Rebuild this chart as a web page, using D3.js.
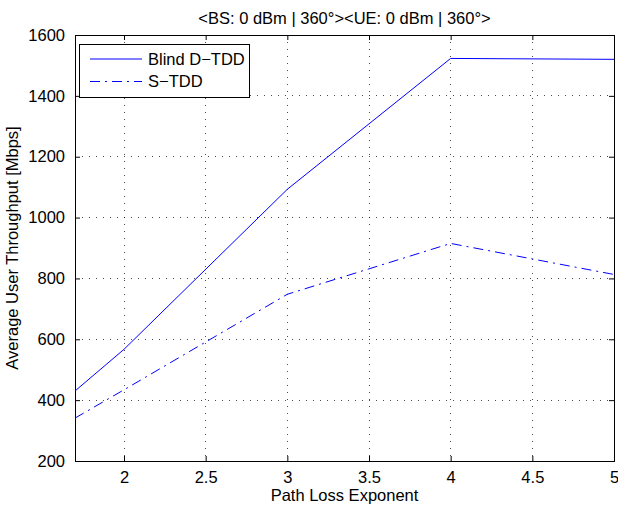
<!DOCTYPE html>
<html>
<head>
<meta charset="utf-8">
<script src="https://cdn.jsdelivr.net/npm/d3@7"></script>
<style>
	body { margin: 0; background: #fff; }
	text { font-family: "Liberation Sans", Arial, Helvetica, sans-serif; }
</style>
</head>
<body>
<div id="chart-area"></div>
<script>
// values
var pathLoss = [1.7, 2, 3, 4, 5];
var blindDTDD = [430, 567, 1093, 1523, 1520];
var sTDD = [341, 434, 748, 915, 813];
var xTicks = [2, 2.5, 3, 3.5, 4, 4.5, 5];
var yTicks = [200, 400, 600, 800, 1000, 1200, 1400, 1600];
var seriesNames = ["Blind D\u2212TDD", "S\u2212TDD"];
var titleText = "<BS: 0 dBm | 360\u00b0><UE: 0 dBm | 360\u00b0>";

var W = 618, H = 506;
var margin = { top: 35, right: 4, bottom: 45, left: 75 };
var width = W - margin.left - margin.right;
var height = H - margin.top - margin.bottom;
var fontSize = "16.5px";

var svg = d3.select("#chart-area")
	.append("svg")
	.attr("width", W)
	.attr("height", H)
	.append("g")
	.attr("transform", "translate(" + margin.left + ", " + margin.top + ")");

var xScale = d3.scaleLinear()
	.domain([1.7, 5])
	.range([0, width]);

var yScale = d3.scaleLinear()
	.domain([200, 1600])
	.range([height, 0]);

// dotted grid
svg.append("g").selectAll("line")
	.data(xTicks)
	.enter().append("line")
	.attr("x1", d => xScale(d)).attr("x2", d => xScale(d))
	.attr("y1", 0).attr("y2", height)
	.attr("stroke", "#000")
	.attr("stroke-width", 1)
	.attr("stroke-dasharray", "1,6")
	.attr("shape-rendering", "crispEdges")
	.attr("opacity", 0.7);

svg.append("g").selectAll("line")
	.data(yTicks)
	.enter().append("line")
	.attr("y1", d => yScale(d)).attr("y2", d => yScale(d))
	.attr("x1", 0).attr("x2", width)
	.attr("stroke", "#000")
	.attr("stroke-width", 1)
	.attr("stroke-dasharray", "1,6")
	.attr("shape-rendering", "crispEdges")
	.attr("opacity", 0.7);

// axes, ticks inside on all four sides
function styleAxis(g) {
	g.select(".domain").remove();
	g.selectAll(".tick line").attr("stroke", "#000");
	g.selectAll(".tick text")
		.attr("font-size", fontSize)
		.attr("fill", "#000");
}

svg.append("g")
	.attr("transform", "translate(0," + height + ")")
	.call(d3.axisBottom(xScale).tickValues(xTicks).tickFormat(d => d).tickSizeInner(-5).tickPadding(10))
	.call(styleAxis);

svg.append("g")
	.call(d3.axisTop(xScale).tickValues(xTicks).tickFormat("").tickSizeInner(-5))
	.call(styleAxis);

svg.append("g")
	.call(d3.axisLeft(yScale).tickValues(yTicks).tickFormat(d => d).tickSizeInner(-5).tickPadding(10))
	.call(styleAxis);

svg.append("g")
	.attr("transform", "translate(" + width + ",0)")
	.call(d3.axisRight(yScale).tickValues(yTicks).tickFormat("").tickSizeInner(-5))
	.call(styleAxis);

svg.append("rect")
	.attr("x", 0).attr("y", 0)
	.attr("width", width).attr("height", height)
	.attr("fill", "none")
	.attr("stroke", "#000")
	.attr("stroke-width", 1)
	.attr("shape-rendering", "crispEdges");

// data lines
var line = d3.line()
	.x((d, i) => xScale(pathLoss[i]))
	.y(d => yScale(d));

svg.append("path")
	.datum(blindDTDD)
	.attr("d", line)
	.attr("fill", "none")
	.attr("stroke", "#0000ff")
	.attr("stroke-width", 1);

svg.append("path")
	.datum(sTDD)
	.attr("d", line)
	.attr("fill", "none")
	.attr("stroke", "#0000ff")
	.attr("stroke-width", 1)
	.attr("stroke-dasharray", "10,5,2,5");

// labels
svg.append("text")
	.attr("x", width / 2)
	.attr("y", -11)
	.attr("text-anchor", "middle")
	.attr("font-size", fontSize)
	.attr("fill", "black")
	.text(titleText);

svg.append("text")
	.attr("x", width / 2)
	.attr("y", height + 40)
	.attr("text-anchor", "middle")
	.attr("font-size", fontSize)
	.attr("fill", "black")
	.text("Path Loss Exponent");

svg.append("text")
	.attr("x", -height / 2)
	.attr("y", -57)
	.attr("transform", "rotate(-90)")
	.attr("text-anchor", "middle")
	.attr("font-size", fontSize)
	.attr("fill", "black")
	.text("Average User Throughput [Mbps]");

// legend
var legend = svg.append("g")
	.attr("transform", "translate(4, 9)");

legend.append("rect")
	.attr("x", 0).attr("y", 0)
	.attr("width", 170).attr("height", 53)
	.attr("fill", "#fff")
	.attr("stroke", "#000")
	.attr("stroke-width", 1)
	.attr("shape-rendering", "crispEdges");

var dashes = [null, "10,5,2,5"];
seriesNames.forEach((name, i) => {
	var yy = 15 + i * 22.5;
	legend.append("line")
		.attr("x1", 11).attr("x2", 63)
		.attr("y1", yy).attr("y2", yy)
		.attr("stroke", "#0000ff")
		.attr("stroke-width", 1)
		.attr("stroke-dasharray", dashes[i]);
	legend.append("text")
		.attr("x", 69)
		.attr("y", yy)
		.attr("dy", "0.35em")
		.attr("font-size", fontSize)
		.attr("fill", "black")
		.text(name);
});
</script>
</body>
</html>
